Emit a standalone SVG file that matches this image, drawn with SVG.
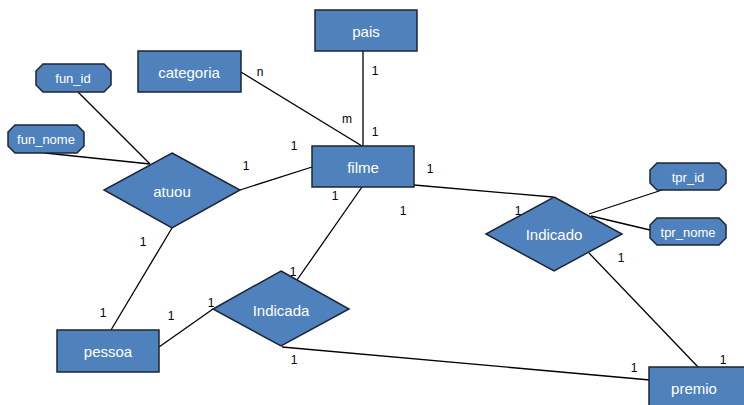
<svg xmlns="http://www.w3.org/2000/svg" width="744" height="405" viewBox="0 0 744 405">
  <style>
    .shape { fill: #4f81bd; stroke: #1c2636; stroke-width: 1.5; }
    .label { fill: #ffffff; font-family: "Liberation Sans", "Open Sans", sans-serif; font-size: 15px; text-anchor: middle; dominant-baseline: central; }
    .attr { font-size: 13px; }
    .card { fill: #000000; font-family: "Liberation Sans", "Open Sans", sans-serif; font-size: 12px; text-anchor: middle; dominant-baseline: central; }
    .link { stroke: #000000; stroke-width: 1.3; fill: none; }
  </style>
  <rect width="744" height="405" fill="#ffffff"/>

  <!-- connectors -->
  <g id="connectors">
    <line class="link" x1="363" y1="51" x2="363" y2="146"/>
    <line class="link" x1="241" y1="72" x2="362" y2="146"/>
    <line class="link" x1="78" y1="92" x2="150" y2="164"/>
    <line class="link" x1="45" y1="153" x2="150" y2="164"/>
    <line class="link" x1="240" y1="190" x2="312" y2="167"/>
    <line class="link" x1="172" y1="228" x2="111" y2="330"/>
    <line class="link" x1="362" y1="187" x2="297" y2="280"/>
    <line class="link" x1="414" y1="185" x2="553" y2="197"/>
    <line class="link" x1="589" y1="214" x2="662" y2="190"/>
    <line class="link" x1="591" y1="216" x2="650" y2="230"/>
    <line class="link" x1="589" y1="253" x2="698" y2="367"/>
    <line class="link" x1="159" y1="347" x2="213" y2="309"/>
    <line class="link" x1="282" y1="347" x2="650" y2="380"/>
  </g>

  <!-- cardinality labels -->
  <g id="cardinalities">
    <text class="card" x="260" y="72">n</text>
    <text class="card" x="375" y="71">1</text>
    <text class="card" x="347" y="119">m</text>
    <text class="card" x="375" y="132">1</text>
    <text class="card" x="294" y="146">1</text>
    <text class="card" x="246" y="166">1</text>
    <text class="card" x="430" y="169">1</text>
    <text class="card" x="335" y="196">1</text>
    <text class="card" x="403" y="211">1</text>
    <text class="card" x="518" y="211">1</text>
    <text class="card" x="621" y="258">1</text>
    <text class="card" x="634" y="368">1</text>
    <text class="card" x="723" y="360">1</text>
    <text class="card" x="143" y="242">1</text>
    <text class="card" x="103" y="313">1</text>
    <text class="card" x="171" y="316">1</text>
    <text class="card" x="211" y="303">1</text>
    <text class="card" x="293" y="272">1</text>
    <text class="card" x="294" y="360">1</text>
  </g>

  <!-- entities -->
  <g id="pais">
    <rect class="shape" x="315" y="10" width="102" height="41"/>
    <text class="label" x="366" y="31">pais</text>
  </g>
  <g id="categoria">
    <rect class="shape" x="138" y="51" width="103" height="41"/>
    <text class="label" x="189" y="72">categoria</text>
  </g>
  <g id="filme">
    <rect class="shape" x="312" y="146" width="102" height="41"/>
    <text class="label" x="363" y="167">filme</text>
  </g>
  <g id="pessoa">
    <rect class="shape" x="57" y="330" width="102" height="42"/>
    <text class="label" x="108" y="351">pessoa</text>
  </g>
  <g id="premio">
    <rect class="shape" x="649" y="367" width="102" height="42"/>
    <text class="label" x="694" y="388">premio</text>
  </g>

  <!-- attributes -->
  <g id="fun_id">
    <polygon class="shape" points="43,64 104,64 111,71 111,85 104,92 43,92 36,85 36,71"/>
    <text class="label attr" x="73" y="78">fun_id</text>
  </g>
  <g id="fun_nome">
    <polygon class="shape" points="15,125 77,125 84,132 84,146 77,153 15,153 8,146 8,132"/>
    <text class="label attr" x="46" y="139">fun_nome</text>
  </g>
  <g id="tpr_id">
    <polygon class="shape" points="657,163 719,163 726,170 726,183 719,190 657,190 650,183 650,170"/>
    <text class="label attr" x="688" y="177">tpr_id</text>
  </g>
  <g id="tpr_nome">
    <polygon class="shape" points="657,218 719,218 726,225 726,238 719,245 657,245 650,238 650,225"/>
    <text class="label attr" x="688" y="232">tpr_nome</text>
  </g>

  <!-- relationships -->
  <g id="atuou">
    <polygon class="shape" points="172,153 240,190 172,228 104,190"/>
    <text class="label" x="172" y="191">atuou</text>
  </g>
  <g id="Indicado">
    <polygon class="shape" points="554,197 622,234 554,271 486,234"/>
    <text class="label" x="554" y="234">Indicado</text>
  </g>
  <g id="Indicada">
    <polygon class="shape" points="281,271 349,309 281,346 213,309"/>
    <text class="label" x="281" y="310">Indicada</text>
  </g>
</svg>
